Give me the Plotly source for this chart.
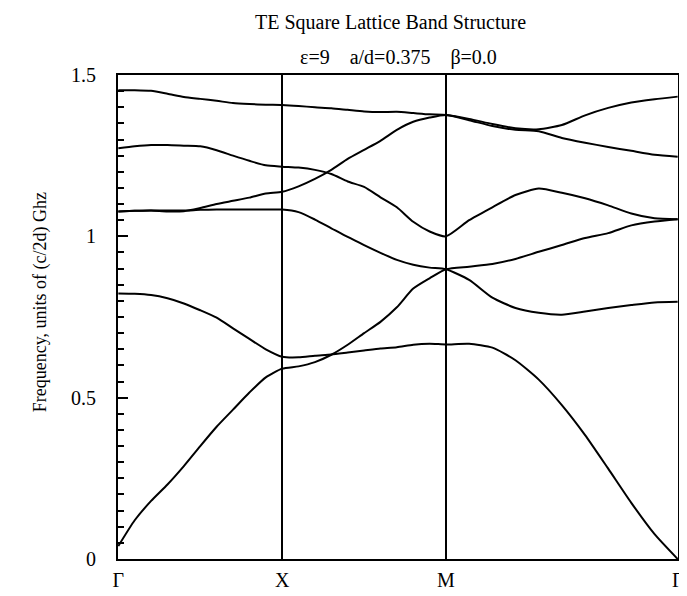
import plotly.graph_objects as go

# k-path grid: Gamma-X (0..1), X-M (1..2), M-Gamma (2..2+sqrt2)
k_gx = [0.0, 0.1, 0.2, 0.3, 0.4, 0.5, 0.6, 0.7, 0.8, 0.9, 1.0]
k_xm = [1.1, 1.2, 1.3, 1.4, 1.5, 1.6, 1.7, 1.8, 1.9, 2.0]
k_mg = [2.141, 2.283, 2.424, 2.566, 2.707, 2.849, 2.990, 3.131, 3.273, 3.414]
k_path = k_gx + k_xm + k_mg

sym_pos = [0.0, 1.0, 2.0, 3.414]
sym_labels = ["Γ", "X", "M", "Γ"]

band_a = [0.04, 0.12, 0.18, 0.231, 0.288, 0.35, 0.41, 0.463, 0.516, 0.563, 0.59,
          0.597, 0.61, 0.633, 0.664, 0.70, 0.735, 0.78, 0.838, 0.87, 0.898,
          0.906, 0.914, 0.93, 0.952, 0.973, 0.995, 1.01, 1.034, 1.046, 1.053]
band_b = [0.823, 0.822, 0.818, 0.808, 0.792, 0.771, 0.748, 0.715, 0.682, 0.65, 0.627,
          0.625, 0.63, 0.634, 0.64, 0.646, 0.652, 0.656, 0.664, 0.667, 0.665,
          0.667, 0.655, 0.616, 0.556, 0.477, 0.384, 0.28, 0.174, 0.077, 0.0]
band_c = [1.077, 1.079, 1.08, 1.08, 1.08, 1.082, 1.083, 1.083, 1.083, 1.083, 1.083,
          1.075, 1.052, 1.025, 0.998, 0.973, 0.949, 0.927, 0.912, 0.903, 0.898,
          0.865, 0.81, 0.778, 0.763, 0.757, 0.767, 0.778, 0.787, 0.795, 0.797]
band_d = [1.077, 1.079, 1.080, 1.077, 1.078, 1.088, 1.10, 1.11, 1.12, 1.133, 1.138,
          1.155, 1.178, 1.206, 1.24, 1.268, 1.296, 1.33, 1.355, 1.368, 1.376,
          1.36, 1.342, 1.33, 1.326, 1.305, 1.29, 1.277, 1.265, 1.253, 1.247]
band_e = [1.453, 1.453, 1.451, 1.442, 1.432, 1.426, 1.42, 1.413, 1.41, 1.408, 1.407,
          1.404, 1.40, 1.397, 1.392, 1.387, 1.385, 1.386, 1.382, 1.378, 1.376,
          1.364, 1.348, 1.335, 1.332, 1.345, 1.375, 1.398, 1.415, 1.425, 1.433]
band_f = [1.273, 1.279, 1.283, 1.283, 1.281, 1.279, 1.267, 1.25, 1.234, 1.22, 1.216,
          1.213, 1.206, 1.193, 1.17, 1.153, 1.121, 1.09, 1.045, 1.015, 1.0,
          1.05, 1.09, 1.128, 1.148, 1.135, 1.118, 1.096, 1.071, 1.056, 1.053]

bands = [band_a, band_b, band_c, band_d, band_e, band_f]

y_ticks = [0, 0.5, 1, 1.5]
y_ticktext = ["0", "0.5", "1", "1.5"]

title_line1 = "TE Square Lattice Band Structure"
title_line2 = "ε=9    a/d=0.375    β=0.0"
y_title = "Frequency, units of (c/2d) Ghz"

SERIF = "Liberation Serif, Times New Roman, serif"

fig = go.Figure()
for b in bands:
    fig.add_trace(go.Scatter(x=k_path, y=b, mode="lines",
                             line=dict(color="black", width=2, shape="spline", smoothing=0.6),
                             showlegend=False, hoverinfo="skip", cliponaxis=False))

# page body adds an 8px offset; size/margins compensate for it
fig.update_layout(
    width=679, height=588,
    margin=dict(l=110, r=9, t=67, b=37),
    paper_bgcolor="white", plot_bgcolor="white",
    font=dict(family=SERIF, color="black"),
    showlegend=False,
)

fig.update_xaxes(
    range=[sym_pos[0] - 0.002, sym_pos[-1] + 0.002],
    tickvals=sym_pos, ticktext=sym_labels,
    ticks="", showgrid=True, gridcolor="black", gridwidth=2,
    showline=True, linecolor="black", linewidth=2, mirror=True,
    zeroline=False, tickfont=dict(size=20, family=SERIF),
    ticklabelstandoff=2, ticklabeloverflow="allow", automargin=False,
)
fig.update_yaxes(
    range=[0, 1.5],
    tickvals=y_ticks, ticktext=y_ticktext,
    ticks="inside", ticklen=10, tickwidth=2, tickcolor="black",
    minor=dict(ticks="inside", dtick=0.05, ticklen=6, tickwidth=2, tickcolor="black", showgrid=False),
    showgrid=False, zeroline=False,
    showline=True, linecolor="black", linewidth=2, mirror=True,
    tickfont=dict(size=20, family=SERIF),
    ticklabelstandoff=16, automargin=False,
)

fig.add_annotation(text=title_line1, xref="paper", yref="paper", x=0.486, y=1.109,
                   showarrow=False, font=dict(size=20, family=SERIF), xanchor="center", yanchor="middle")
fig.add_annotation(text=title_line2, xref="paper", yref="paper", x=0.5, y=1.037,
                   showarrow=False, font=dict(size=20, family=SERIF), xanchor="center", yanchor="middle")
fig.add_annotation(text=y_title, xref="paper", yref="paper", x=-0.138, y=0.53,
                   showarrow=False, textangle=-90, font=dict(size=18, family=SERIF),
                   xanchor="center", yanchor="middle")

fig.write_html("out.html")
